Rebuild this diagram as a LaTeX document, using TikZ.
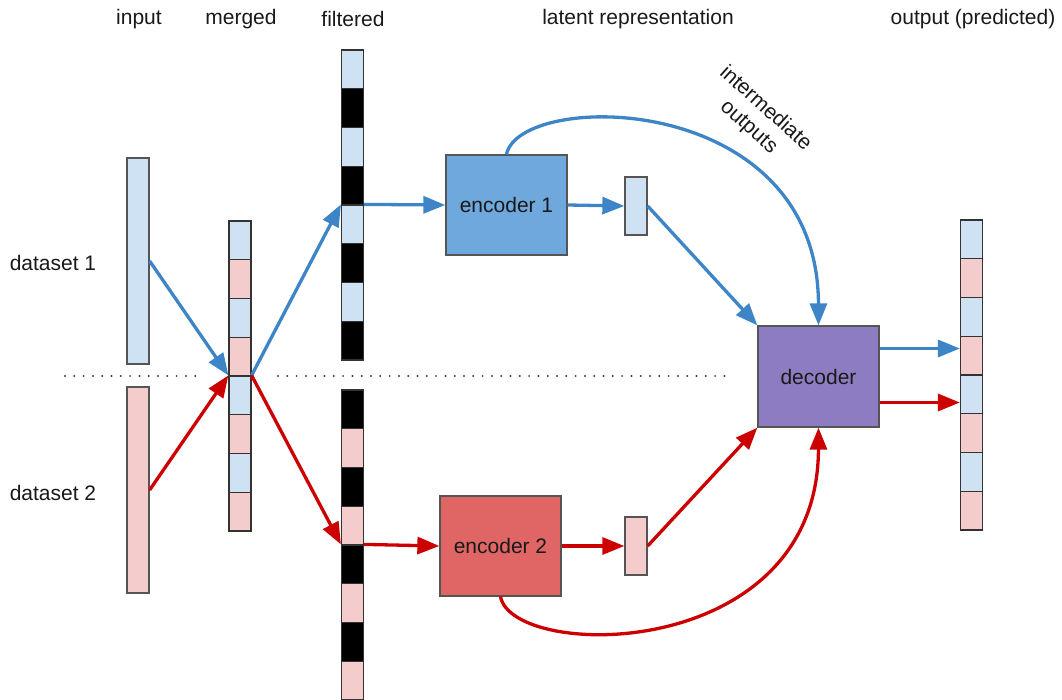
\documentclass[tikz,border=0pt]{standalone}
\usepackage{fontspec}
\setmainfont{Liberation Sans}
\usetikzlibrary{arrows.meta,positioning}

\definecolor{cellblue}{HTML}{CFE2F3}
\definecolor{cellpink}{HTML}{F4CCCC}
\definecolor{encblue}{HTML}{6FA8DC}
\definecolor{encred}{HTML}{E06666}
\definecolor{decpurple}{HTML}{8E7CC3}
\definecolor{lineblue}{HTML}{3D85C6}
\definecolor{linered}{HTML}{CC0000}
\definecolor{edgegray}{HTML}{555555}

\begin{document}
\begin{tikzpicture}[x=1pt, y=-1pt,
    every node/.style = {font=\fontsize{21}{25}\selectfont, text=black!90},
    cell/.style = {draw=black!80, line width=1.2pt, inner sep=0pt,
      minimum width=22pt, minimum height=38.75pt},
    bar/.style = {draw=edgegray, line width=1.3pt, inner sep=0pt,
      minimum width=22pt},
    box/.style = {draw=edgegray, line width=1.3pt, inner sep=0pt,
      minimum width=121pt, minimum height=100pt},
    every edge/.style = {draw, line width=3.3pt,
      -{Triangle[length=22pt,width=17pt]}},
    bluearrow/.style = {draw=lineblue, line width=3.3pt,
      -{Triangle[length=22pt,width=17pt]}},
    redarrow/.style = {draw=linered, line width=3.3pt,
      -{Triangle[length=22pt,width=17pt]}},
    sep/.style = {draw=black!75, line width=2.2pt, line cap=round,
      dash pattern=on 0pt off 9.3pt}]
  \useasboundingbox (0,0) rectangle (1062,700);

  % column titles
  \node (tin)  at (139,19) {input};
  \node (tmg)  at (241,19) {merged};
  \node (tfl)  at (353,19) {filtered};
  \node (tlat) at (638,19) {latent representation};
  \node (tout) at (973,19) {output (predicted)};
  \node (ds1) at (53,263) {dataset 1};
  \node (ds2) at (53,493) {dataset 2};

  % input bars
  \node (in1) [bar, fill=cellblue, minimum height=206pt] at (138,261) {};
  \node (in2) [bar, fill=cellpink, minimum height=206pt] at (138,490) {};

  % merged, filtered and output columns
  \foreach \i/\cm/\cf/\cg in {1/cellblue/cellblue/black, 2/cellpink/black/cellpink,
      3/cellblue/cellblue/black, 4/cellpink/black/cellpink,
      5/cellblue/cellblue/black, 6/cellpink/black/cellpink,
      7/cellblue/cellblue/black, 8/cellpink/black/cellpink} {
    \node (m\i) [cell, fill=\cm] at (240,{221+(\i-0.5)*38.75}) {};
    \node (f\i) [cell, fill=\cf] at (352.5,{50+(\i-0.5)*38.75}) {};
    \node (g\i) [cell, fill=\cg] at (352.5,{390+(\i-0.5)*38.75}) {};
    \node (o\i) [cell, fill=\cm] at (971.5,{220+(\i-0.5)*38.75}) {};
  }

  % encoders, latent codes, decoder
  \node (enc1) [box, fill=encblue] at (506.5,205) {encoder 1};
  \node (enc2) [box, fill=encred]  at (500.5,546) {encoder 2};
  \node (lat1) [bar, fill=cellblue, minimum height=58pt] at (636,206) {};
  \node (lat2) [bar, fill=cellpink, minimum height=58pt] at (636,546) {};
  \node (dec)  [box, fill=decpurple, minimum height=101pt] at (818.5,376.5) {decoder};

  \node (note) [align=center, rotate=-42] at (757,118) {intermediate\\outputs};

  % separator
  \coordinate (s1) at (65,376);
  \coordinate (s2) at (198,376);
  \coordinate (s3) at (278,376);
  \coordinate (s4) at (730,376);
  \draw[sep] (s1) -- (s2);
  \draw[sep] (s3) -- (s4);

  \draw (in1.east) edge[draw=lineblue] (m5.north west);
  \draw (in2.east) edge[draw=linered] (m5.north west);
  \draw (m5.north east) edge[draw=lineblue] (f5.north west);
  \draw (m5.north east) edge[draw=linered] (g5.north west);
  \draw (f5.north east) edge[draw=lineblue] (enc1.west);
  \draw (g5.north east) edge[draw=linered] (enc2.west);
  \draw (enc1.east) edge[draw=lineblue] (lat1.west);
  \draw (enc2.east) edge[draw=linered] (lat2.west);
  \draw (lat1.east) edge[draw=lineblue] (dec.north west);
  \draw (lat2.east) edge[draw=linered] (dec.south west);
  \draw ([yshift=28pt]dec.east) edge[draw=lineblue] ([yshift=28pt]dec.east -| o4.west);
  \draw ([yshift=-26pt]dec.east) edge[draw=linered] ([yshift=-26pt]dec.east -| o5.west);

  \draw[bluearrow] (enc1.north) .. controls (520,90) and (818,90) .. (dec.north);
  \draw[redarrow] (enc2.south) .. controls (513,661) and (818,663) .. (dec.south);
\end{tikzpicture}
\end{document}
